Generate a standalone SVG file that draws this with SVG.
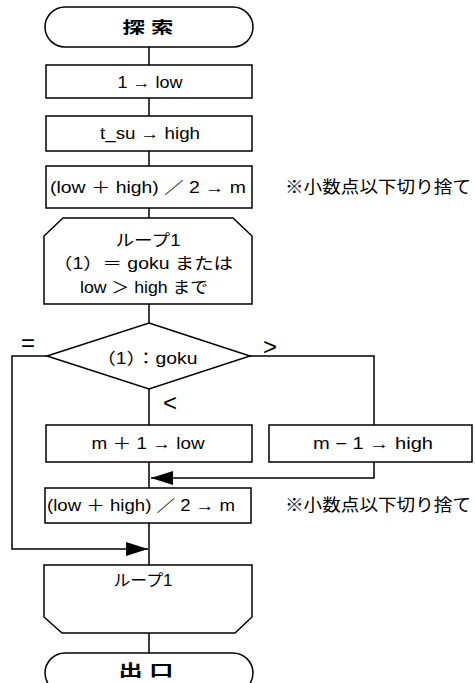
<svg xmlns="http://www.w3.org/2000/svg" width="475" height="683" viewBox="0 0 475 683">
<defs>
<style>
.s{fill:#fff;stroke:#000;stroke-width:1.5}
.c{fill:none;stroke:#000;stroke-width:1.5}
text{font-family:"Liberation Sans","Noto Sans CJK JP",sans-serif;fill:#000}
.t{font-size:16px;text-anchor:middle}
.j{font-size:16px;font-weight:bold;text-anchor:middle}
.n{font-size:17px}
.l{font-size:24px;text-anchor:middle}
</style>
<marker id="ah" viewBox="0 0 22 14" refX="22" refY="7" markerWidth="22" markerHeight="14" markerUnits="userSpaceOnUse" orient="auto">
<path d="M0,0 L22,7 L0,14 z" fill="#000"/>
</marker>
</defs>
<rect width="475" height="683" fill="#fff"/>
<g id="connectors">
<path class="c" d="M149,47 V65 M149,98 V116 M149,151 V166 M149,208 V218 M149,304 V323 M149,389 V425 M149,462 V488 M149,523 V565 M149,632 V653"/>
<path class="c" d="M374,462 V478 H151" marker-end="url(#ah)"/>
<path class="c" d="M47,356 H12 V549 H148" marker-end="url(#ah)"/>
<path class="c" d="M250,356 H374 V425"/>
<text class="l" x="28" y="351">=</text>
<text class="l" x="270" y="355">&gt;</text>
<text class="l" x="170" y="411">&lt;</text>
</g>
<g id="start">
<rect class="s" x="45" y="7" width="208" height="40" rx="20" ry="20"/>
<text class="j" x="148" y="33" textLength="51" lengthAdjust="spacingAndGlyphs">探 索</text>
</g>
<g id="init-low">
<rect class="s" x="46" y="65" width="206" height="33"/>
<text class="t" x="150" y="88" textLength="65" lengthAdjust="spacingAndGlyphs">1 → low</text>
</g>
<g id="init-high">
<rect class="s" x="46" y="116" width="206" height="35"/>
<text class="t" x="150" y="139" textLength="100" lengthAdjust="spacingAndGlyphs">t_su → high</text>
</g>
<g id="calc-m1">
<rect class="s" x="46" y="166" width="206" height="42"/>
<text class="t" x="148" y="193" textLength="196" lengthAdjust="spacingAndGlyphs">(low ＋ high) ／ 2 → m</text>
</g>
<g id="note1">
<text class="n" x="285" y="193" textLength="186" lengthAdjust="spacingAndGlyphs">※小数点以下切り捨て</text>
</g>
<g id="loop-start">
<path class="s" d="M63,218 H233 L252,236 V304 H44 V236 Z"/>
<text class="t" x="148" y="246" textLength="65" lengthAdjust="spacingAndGlyphs">ループ1</text>
<text class="t" x="143" y="269" textLength="180" lengthAdjust="spacingAndGlyphs">（1）＝ goku または</text>
<text class="t" x="144" y="293" textLength="128" lengthAdjust="spacingAndGlyphs">low ＞ high まで</text>
</g>
<g id="decision">
<path class="s" d="M149,323 L250,356 L149,389 L47,356 Z"/>
<text class="t" x="147" y="364" textLength="101" lengthAdjust="spacingAndGlyphs">（1）：goku</text>
</g>
<g id="inc-low">
<rect class="s" x="46" y="425" width="206" height="37"/>
<text class="t" x="148" y="449" textLength="113" lengthAdjust="spacingAndGlyphs">m ＋ 1 → low</text>
</g>
<g id="dec-high">
<rect class="s" x="269" y="425" width="203" height="37"/>
<text class="t" x="373" y="449" textLength="120" lengthAdjust="spacingAndGlyphs">m − 1 → high</text>
</g>
<g id="calc-m2">
<rect class="s" x="45" y="488" width="206" height="35"/>
<text class="t" x="141" y="511" textLength="188" lengthAdjust="spacingAndGlyphs">(low ＋ high) ／ 2 → m</text>
</g>
<g id="note2">
<text class="n" x="285" y="511" textLength="186" lengthAdjust="spacingAndGlyphs">※小数点以下切り捨て</text>
</g>
<g id="loop-end">
<path class="s" d="M44,565 H252 V617 L235,633 H62 L44,617 Z"/>
<text class="t" x="143" y="586" textLength="59" lengthAdjust="spacingAndGlyphs">ループ1</text>
</g>
<g id="end">
<rect class="s" x="45" y="653" width="208" height="40" rx="20" ry="20"/>
<text class="j" x="146" y="676" textLength="55" lengthAdjust="spacingAndGlyphs">出 口</text>
</g>
</svg>
